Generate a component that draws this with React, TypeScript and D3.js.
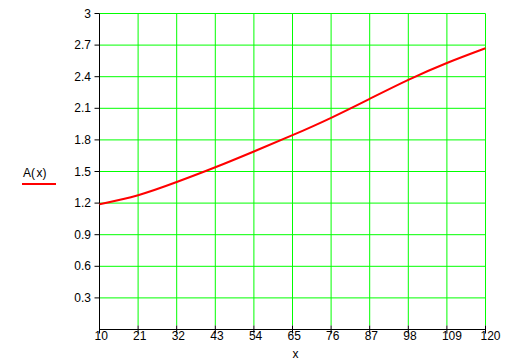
import React, { useEffect, useRef } from 'react';
import * as d3 from 'd3';

const xValues = [10, 21, 32, 43, 54, 65, 76, 87, 98, 109, 120];
const aValues = [1.19, 1.275, 1.4, 1.54, 1.69, 1.845, 2.01, 2.19, 2.37, 2.53, 2.67];

const xTicks = [10, 21, 32, 43, 54, 65, 76, 87, 98, 109, 120];
const yTicks = [0.3, 0.6, 0.9, 1.2, 1.5, 1.8, 2.1, 2.4, 2.7, 3];

const App: React.FC = () => {
  const svgRef = useRef<SVGSVGElement | null>(null);

  useEffect(() => {
    if (!svgRef.current) return;

    const svg = d3.select(svgRef.current);
    const width = 518;
    const height = 363;
    const font = '"Liberation Sans", Arial, sans-serif';

    svg.selectAll('*').remove();

    svg.append('rect')
      .attr('width', width)
      .attr('height', height)
      .attr('fill', '#fff');

    const xScale = d3.scaleLinear().domain([10, 120]).range([99.5, 485.5]);
    const yScale = d3.scaleLinear().domain([0, 3]).range([329.5, 13.5]);

    // grid
    const grid = svg.append('g')
      .attr('stroke', '#00ff00')
      .attr('stroke-width', 1);

    grid.selectAll('line.v')
      .data(xTicks.slice(1))
      .enter()
      .append('line')
      .attr('x1', d => xScale(d))
      .attr('x2', d => xScale(d))
      .attr('y1', yScale(3))
      .attr('y2', yScale(0) - 4);

    grid.selectAll('line.h')
      .data(yTicks)
      .enter()
      .append('line')
      .attr('x1', xScale(10))
      .attr('x2', xScale(120))
      .attr('y1', d => yScale(d))
      .attr('y2', d => yScale(d));

    // axes
    const axes = svg.append('g')
      .attr('stroke', '#000')
      .attr('stroke-width', 1);

    axes.append('line')
      .attr('x1', xScale(10))
      .attr('x2', xScale(10))
      .attr('y1', yScale(3))
      .attr('y2', yScale(0));

    axes.append('line')
      .attr('x1', xScale(10))
      .attr('x2', xScale(120))
      .attr('y1', yScale(0))
      .attr('y2', yScale(0));

    axes.selectAll('line.yt')
      .data(yTicks)
      .enter()
      .append('line')
      .attr('x1', xScale(10) - 5)
      .attr('x2', xScale(10))
      .attr('y1', d => yScale(d))
      .attr('y2', d => yScale(d));

    axes.selectAll('line.xt')
      .data(xTicks)
      .enter()
      .append('line')
      .attr('x1', d => xScale(d))
      .attr('x2', d => xScale(d))
      .attr('y1', yScale(0) - 4)
      .attr('y2', yScale(0) + 4);

    // tick labels
    svg.append('g')
      .selectAll('text')
      .data(yTicks)
      .enter()
      .append('text')
      .attr('x', xScale(10) - 8.5)
      .attr('y', d => yScale(d) + 4)
      .attr('text-anchor', 'end')
      .attr('font-family', font)
      .attr('font-size', 12)
      .attr('fill', '#000')
      .text(d => String(d));

    svg.append('g')
      .selectAll('text')
      .data(xTicks)
      .enter()
      .append('text')
      .attr('x', d => xScale(d) - 5)
      .attr('y', yScale(0) + 10.5)
      .attr('font-family', font)
      .attr('font-size', 12)
      .attr('fill', '#000')
      .text(d => String(d));

    svg.append('text')
      .attr('x', 295.5)
      .attr('y', 358)
      .attr('text-anchor', 'middle')
      .attr('font-family', font)
      .attr('font-size', 12)
      .attr('fill', '#000')
      .text('x');

    // trace label with its line sample
    const lab = svg.append('text')
      .attr('x', 23)
      .attr('y', 177)
      .attr('font-family', font)
      .attr('font-size', 12)
      .attr('fill', '#000');
    lab.append('tspan').text('A(');
    lab.append('tspan').attr('dx', 1.5).text('x');
    lab.append('tspan').text(')');

    svg.append('line')
      .attr('x1', 22)
      .attr('x2', 56)
      .attr('y1', 184)
      .attr('y2', 184)
      .attr('stroke', '#ff0000')
      .attr('stroke-width', 2);

    // curve
    const line = d3.line<number>()
      .x((_, i) => xScale(xValues[i]))
      .y(d => yScale(d))
      .curve(d3.curveNatural);

    svg.append('path')
      .datum(aValues)
      .attr('d', line)
      .attr('fill', 'none')
      .attr('stroke', '#ff0000')
      .attr('stroke-width', 2);
  }, []);

  return (
    <svg
      ref={svgRef}
      width={518}
      height={363}
      style={{ position: 'absolute', left: 0, top: 0 }}
    ></svg>
  );
};

export default App;
